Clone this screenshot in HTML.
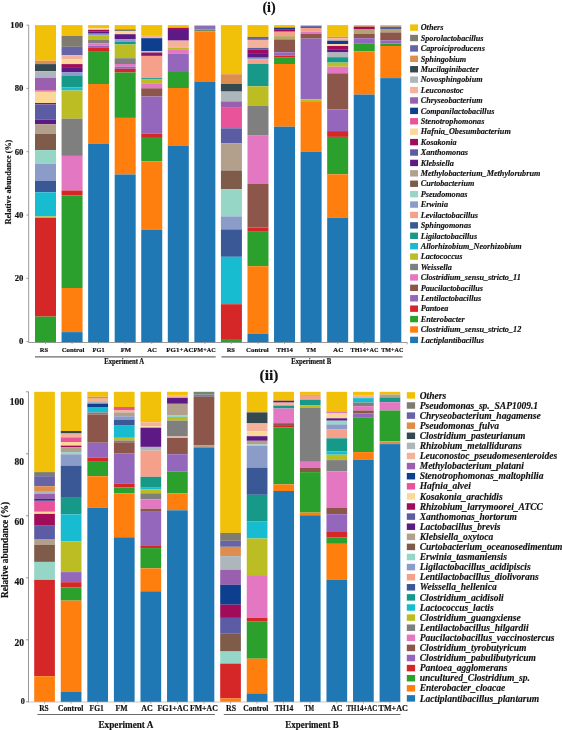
<!DOCTYPE html>
<html><head><meta charset="utf-8"><title>Relative abundance</title>
<style>
html,body{margin:0;padding:0;background:#fff;width:562px;height:730px;overflow:hidden}
svg{display:block;will-change:transform;filter:blur(0.3px)}
.b{font-family:"Liberation Serif",serif;font-weight:bold;fill:#111;stroke:#111;stroke-width:0.18px}
.lg{font-family:"Liberation Serif",serif;font-weight:bold;font-style:italic;fill:#111;stroke:#111;stroke-width:0.15px}
</style></head><body>
<svg width="562" height="730" viewBox="0 0 562 730">
<rect width="562" height="730" fill="#fff"/>
<text x="269" y="11.8" class="b" style="font-size:14px" text-anchor="middle">(i)</text>
<line x1="28.7" y1="25" x2="28.7" y2="342.5" stroke="#8f8f8f" stroke-width="0.9"/>
<line x1="28.7" y1="342.5" x2="407.4" y2="342.5" stroke="#8f8f8f" stroke-width="0.9"/><line x1="407.2" y1="342.5" x2="407.2" y2="344.3" stroke="#8f8f8f" stroke-width="0.8"/>
<line x1="26.5" y1="25.10" x2="28.7" y2="25.10" stroke="#8f8f8f" stroke-width="0.9"/>
<text x="23.4" y="27.90" class="b" style="font-size:8.7px" text-anchor="end">100</text>
<line x1="26.5" y1="88.40" x2="28.7" y2="88.40" stroke="#8f8f8f" stroke-width="0.9"/>
<text x="23.4" y="91.20" class="b" style="font-size:8.7px" text-anchor="end">80</text>
<line x1="26.5" y1="151.70" x2="28.7" y2="151.70" stroke="#8f8f8f" stroke-width="0.9"/>
<text x="23.4" y="154.50" class="b" style="font-size:8.7px" text-anchor="end">60</text>
<line x1="26.5" y1="215.00" x2="28.7" y2="215.00" stroke="#8f8f8f" stroke-width="0.9"/>
<text x="23.4" y="217.80" class="b" style="font-size:8.7px" text-anchor="end">40</text>
<line x1="26.5" y1="278.30" x2="28.7" y2="278.30" stroke="#8f8f8f" stroke-width="0.9"/>
<text x="23.4" y="281.10" class="b" style="font-size:8.7px" text-anchor="end">20</text>
<line x1="26.5" y1="341.60" x2="28.7" y2="341.60" stroke="#8f8f8f" stroke-width="0.9"/>
<text x="23.4" y="344.40" class="b" style="font-size:8.7px" text-anchor="end">0</text>
<text transform="translate(11.2,182.0) rotate(-90)" class="b" style="font-size:8.2px" text-anchor="middle">Relative abundance (%)</text>
<rect x="35.00" y="25.10" width="21.00" height="35.50" fill="#f1c10a"/>
<rect x="35.00" y="60.60" width="21.00" height="3.50" fill="#dd8e4f"/>
<rect x="35.00" y="64.10" width="21.00" height="7.10" fill="#33484f"/>
<rect x="35.00" y="71.20" width="21.00" height="6.80" fill="#adb7bb"/>
<rect x="35.00" y="78.00" width="21.00" height="12.40" fill="#9a5fae"/>
<rect x="35.00" y="90.40" width="21.00" height="1.30" fill="#e8539a"/>
<rect x="35.00" y="91.70" width="21.00" height="11.30" fill="#fbd898"/>
<rect x="35.00" y="103.00" width="21.00" height="1.40" fill="#a00c5a"/>
<rect x="35.00" y="104.40" width="21.00" height="15.20" fill="#5b5ca4"/>
<rect x="35.00" y="119.60" width="21.00" height="4.60" fill="#5e1a84"/>
<rect x="35.00" y="124.20" width="21.00" height="9.70" fill="#b3a08c"/>
<rect x="35.00" y="133.90" width="21.00" height="16.20" fill="#7f5b4a"/>
<rect x="35.00" y="150.10" width="21.00" height="13.60" fill="#96d6c6"/>
<rect x="35.00" y="163.70" width="21.00" height="17.30" fill="#8b9cc8"/>
<rect x="35.00" y="181.00" width="21.00" height="11.30" fill="#3a5796"/>
<rect x="35.00" y="192.30" width="21.00" height="24.10" fill="#18bcd0"/>
<rect x="35.00" y="216.40" width="21.00" height="1.60" fill="#bcbd22"/>
<rect x="35.00" y="218.00" width="21.00" height="98.60" fill="#d62728"/>
<rect x="35.00" y="316.60" width="21.00" height="25.60" fill="#2ca02c"/>
<rect x="61.56" y="25.10" width="21.00" height="10.80" fill="#f1c10a"/>
<rect x="61.56" y="35.90" width="21.00" height="10.90" fill="#7f7b6f"/>
<rect x="61.56" y="46.80" width="21.00" height="8.50" fill="#6663a6"/>
<rect x="61.56" y="55.30" width="21.00" height="4.10" fill="#f5b29a"/>
<rect x="61.56" y="59.40" width="21.00" height="4.70" fill="#fbd898"/>
<rect x="61.56" y="64.10" width="21.00" height="3.80" fill="#a00c5a"/>
<rect x="61.56" y="67.90" width="21.00" height="4.20" fill="#5e1a84"/>
<rect x="61.56" y="72.10" width="21.00" height="3.90" fill="#8b9cc8"/>
<rect x="61.56" y="76.00" width="21.00" height="11.40" fill="#17998a"/>
<rect x="61.56" y="87.40" width="21.00" height="3.10" fill="#18bcd0"/>
<rect x="61.56" y="90.50" width="21.00" height="28.20" fill="#bcbd22"/>
<rect x="61.56" y="118.70" width="21.00" height="37.20" fill="#7f7f7f"/>
<rect x="61.56" y="155.90" width="21.00" height="34.60" fill="#e377c2"/>
<rect x="61.56" y="190.50" width="21.00" height="4.80" fill="#d62728"/>
<rect x="61.56" y="195.30" width="21.00" height="92.70" fill="#2ca02c"/>
<rect x="61.56" y="288.00" width="21.00" height="44.10" fill="#ff7f0e"/>
<rect x="61.56" y="332.10" width="21.00" height="10.10" fill="#1f77b4"/>
<rect x="88.12" y="25.10" width="21.00" height="3.20" fill="#f1c10a"/>
<rect x="88.12" y="28.30" width="21.00" height="1.50" fill="#fbd898"/>
<rect x="88.12" y="29.80" width="21.00" height="1.90" fill="#a00c5a"/>
<rect x="88.12" y="31.70" width="21.00" height="2.00" fill="#5e1a84"/>
<rect x="88.12" y="33.70" width="21.00" height="2.00" fill="#8b9cc8"/>
<rect x="88.12" y="35.70" width="21.00" height="4.30" fill="#bcbd22"/>
<rect x="88.12" y="40.00" width="21.00" height="3.50" fill="#7f7f7f"/>
<rect x="88.12" y="43.50" width="21.00" height="2.20" fill="#e377c2"/>
<rect x="88.12" y="45.70" width="21.00" height="2.20" fill="#9467bd"/>
<rect x="88.12" y="47.90" width="21.00" height="3.90" fill="#d62728"/>
<rect x="88.12" y="51.80" width="21.00" height="32.20" fill="#2ca02c"/>
<rect x="88.12" y="84.00" width="21.00" height="59.60" fill="#ff7f0e"/>
<rect x="88.12" y="143.60" width="21.00" height="198.60" fill="#1f77b4"/>
<rect x="114.68" y="25.10" width="21.00" height="4.20" fill="#f1c10a"/>
<rect x="114.68" y="29.30" width="21.00" height="1.70" fill="#7f7b6f"/>
<rect x="114.68" y="31.00" width="21.00" height="3.20" fill="#fbd898"/>
<rect x="114.68" y="34.20" width="21.00" height="4.90" fill="#5e1a84"/>
<rect x="114.68" y="39.10" width="21.00" height="2.40" fill="#8b9cc8"/>
<rect x="114.68" y="41.50" width="21.00" height="3.00" fill="#17998a"/>
<rect x="114.68" y="44.50" width="21.00" height="13.70" fill="#bcbd22"/>
<rect x="114.68" y="58.20" width="21.00" height="5.80" fill="#7f7f7f"/>
<rect x="114.68" y="64.00" width="21.00" height="2.60" fill="#e377c2"/>
<rect x="114.68" y="66.60" width="21.00" height="2.20" fill="#9467bd"/>
<rect x="114.68" y="68.80" width="21.00" height="3.70" fill="#d62728"/>
<rect x="114.68" y="72.50" width="21.00" height="45.40" fill="#2ca02c"/>
<rect x="114.68" y="117.90" width="21.00" height="56.60" fill="#ff7f0e"/>
<rect x="114.68" y="174.50" width="21.00" height="167.70" fill="#1f77b4"/>
<rect x="141.24" y="25.10" width="21.00" height="10.80" fill="#f1c10a"/>
<rect x="141.24" y="35.90" width="21.00" height="2.30" fill="#f5b29a"/>
<rect x="141.24" y="38.20" width="21.00" height="13.10" fill="#0e3f8e"/>
<rect x="141.24" y="51.30" width="21.00" height="1.20" fill="#f5b29a"/>
<rect x="141.24" y="52.50" width="21.00" height="3.40" fill="#86186a"/>
<rect x="141.24" y="55.90" width="21.00" height="22.20" fill="#f4a08a"/>
<rect x="141.24" y="78.10" width="21.00" height="1.40" fill="#17998a"/>
<rect x="141.24" y="79.50" width="21.00" height="3.80" fill="#bcbd22"/>
<rect x="141.24" y="83.30" width="21.00" height="5.00" fill="#e377c2"/>
<rect x="141.24" y="88.30" width="21.00" height="8.20" fill="#8c564b"/>
<rect x="141.24" y="96.50" width="21.00" height="37.20" fill="#9467bd"/>
<rect x="141.24" y="133.70" width="21.00" height="4.20" fill="#d62728"/>
<rect x="141.24" y="137.90" width="21.00" height="23.40" fill="#2ca02c"/>
<rect x="141.24" y="161.30" width="21.00" height="68.30" fill="#ff7f0e"/>
<rect x="141.24" y="229.60" width="21.00" height="112.60" fill="#1f77b4"/>
<rect x="167.80" y="25.10" width="21.00" height="2.70" fill="#f1c10a"/>
<rect x="167.80" y="27.80" width="21.00" height="2.20" fill="#a00c5a"/>
<rect x="167.80" y="30.00" width="21.00" height="10.60" fill="#5e1a84"/>
<rect x="167.80" y="40.60" width="21.00" height="7.20" fill="#f5b29a"/>
<rect x="167.80" y="47.80" width="21.00" height="2.10" fill="#bcbd22"/>
<rect x="167.80" y="49.90" width="21.00" height="3.60" fill="#e377c2"/>
<rect x="167.80" y="53.50" width="21.00" height="18.50" fill="#9467bd"/>
<rect x="167.80" y="72.00" width="21.00" height="16.00" fill="#2ca02c"/>
<rect x="167.80" y="88.00" width="21.00" height="57.60" fill="#ff7f0e"/>
<rect x="167.80" y="145.60" width="21.00" height="196.60" fill="#1f77b4"/>
<rect x="194.36" y="25.10" width="21.00" height="0.80" fill="#d8c060"/>
<rect x="194.36" y="25.90" width="21.00" height="3.70" fill="#8a6fb8"/>
<rect x="194.36" y="29.60" width="21.00" height="1.70" fill="#6f8a5c"/>
<rect x="194.36" y="31.30" width="21.00" height="50.20" fill="#ff7f0e"/>
<rect x="194.36" y="81.50" width="21.00" height="260.70" fill="#1f77b4"/>
<rect x="220.92" y="25.10" width="21.00" height="49.10" fill="#f1c10a"/>
<rect x="220.92" y="74.20" width="21.00" height="9.80" fill="#dd8e4f"/>
<rect x="220.92" y="84.00" width="21.00" height="7.60" fill="#33484f"/>
<rect x="220.92" y="91.60" width="21.00" height="9.80" fill="#adb7bb"/>
<rect x="220.92" y="101.40" width="21.00" height="5.70" fill="#9a5fae"/>
<rect x="220.92" y="107.10" width="21.00" height="21.20" fill="#e8539a"/>
<rect x="220.92" y="128.30" width="21.00" height="15.10" fill="#5b5ca4"/>
<rect x="220.92" y="143.40" width="21.00" height="27.10" fill="#b3a08c"/>
<rect x="220.92" y="170.50" width="21.00" height="18.80" fill="#7f5b4a"/>
<rect x="220.92" y="189.30" width="21.00" height="27.10" fill="#96d6c6"/>
<rect x="220.92" y="216.40" width="21.00" height="13.00" fill="#8b9cc8"/>
<rect x="220.92" y="229.40" width="21.00" height="27.40" fill="#3a5796"/>
<rect x="220.92" y="256.80" width="21.00" height="47.40" fill="#18bcd0"/>
<rect x="220.92" y="304.20" width="21.00" height="34.80" fill="#d62728"/>
<rect x="220.92" y="339.00" width="21.00" height="3.20" fill="#2ca02c"/>
<rect x="247.48" y="25.10" width="21.00" height="11.80" fill="#f1c10a"/>
<rect x="247.48" y="36.90" width="21.00" height="3.00" fill="#6663a6"/>
<rect x="247.48" y="39.90" width="21.00" height="8.00" fill="#f5b29a"/>
<rect x="247.48" y="47.90" width="21.00" height="1.90" fill="#5b5ca4"/>
<rect x="247.48" y="49.80" width="21.00" height="4.10" fill="#a00c5a"/>
<rect x="247.48" y="53.90" width="21.00" height="3.80" fill="#5e1a84"/>
<rect x="247.48" y="57.70" width="21.00" height="1.80" fill="#8b9cc8"/>
<rect x="247.48" y="59.50" width="21.00" height="4.50" fill="#f4a08a"/>
<rect x="247.48" y="64.00" width="21.00" height="22.30" fill="#17998a"/>
<rect x="247.48" y="86.30" width="21.00" height="19.60" fill="#bcbd22"/>
<rect x="247.48" y="105.90" width="21.00" height="29.20" fill="#7f7f7f"/>
<rect x="247.48" y="135.10" width="21.00" height="48.90" fill="#e377c2"/>
<rect x="247.48" y="184.00" width="21.00" height="43.50" fill="#8c564b"/>
<rect x="247.48" y="227.50" width="21.00" height="3.60" fill="#d62728"/>
<rect x="247.48" y="231.10" width="21.00" height="35.10" fill="#2ca02c"/>
<rect x="247.48" y="266.20" width="21.00" height="67.70" fill="#ff7f0e"/>
<rect x="247.48" y="333.90" width="21.00" height="8.30" fill="#1f77b4"/>
<rect x="274.04" y="25.10" width="21.00" height="2.50" fill="#f1c10a"/>
<rect x="274.04" y="27.60" width="21.00" height="2.20" fill="#0e3f8e"/>
<rect x="274.04" y="29.80" width="21.00" height="1.90" fill="#a00c5a"/>
<rect x="274.04" y="31.70" width="21.00" height="4.40" fill="#f4a08a"/>
<rect x="274.04" y="36.10" width="21.00" height="3.30" fill="#b8a868"/>
<rect x="274.04" y="39.40" width="21.00" height="12.90" fill="#8c564b"/>
<rect x="274.04" y="52.30" width="21.00" height="3.40" fill="#9467bd"/>
<rect x="274.04" y="55.70" width="21.00" height="2.00" fill="#d62728"/>
<rect x="274.04" y="57.70" width="21.00" height="6.30" fill="#2ca02c"/>
<rect x="274.04" y="64.00" width="21.00" height="62.70" fill="#ff7f0e"/>
<rect x="274.04" y="126.70" width="21.00" height="215.50" fill="#1f77b4"/>
<rect x="300.60" y="25.10" width="21.00" height="1.00" fill="#f1c10a"/>
<rect x="300.60" y="26.10" width="21.00" height="1.90" fill="#5b5ca4"/>
<rect x="300.60" y="28.00" width="21.00" height="3.70" fill="#f4a08a"/>
<rect x="300.60" y="31.70" width="21.00" height="2.00" fill="#e377c2"/>
<rect x="300.60" y="33.70" width="21.00" height="4.90" fill="#8c564b"/>
<rect x="300.60" y="38.60" width="21.00" height="60.70" fill="#9467bd"/>
<rect x="300.60" y="99.30" width="21.00" height="1.90" fill="#bcbd22"/>
<rect x="300.60" y="101.20" width="21.00" height="50.50" fill="#ff7f0e"/>
<rect x="300.60" y="151.70" width="21.00" height="190.50" fill="#1f77b4"/>
<rect x="327.16" y="25.10" width="21.00" height="11.70" fill="#f1c10a"/>
<rect x="327.16" y="36.80" width="21.00" height="1.40" fill="#dd8e4f"/>
<rect x="327.16" y="38.20" width="21.00" height="2.50" fill="#f5b29a"/>
<rect x="327.16" y="40.70" width="21.00" height="3.40" fill="#0e3f8e"/>
<rect x="327.16" y="44.10" width="21.00" height="1.90" fill="#fbd898"/>
<rect x="327.16" y="46.00" width="21.00" height="3.20" fill="#a00c5a"/>
<rect x="327.16" y="49.20" width="21.00" height="3.20" fill="#5e1a84"/>
<rect x="327.16" y="52.40" width="21.00" height="4.80" fill="#adb7bb"/>
<rect x="327.16" y="57.20" width="21.00" height="5.40" fill="#17998a"/>
<rect x="327.16" y="62.60" width="21.00" height="4.10" fill="#bcbd22"/>
<rect x="327.16" y="66.70" width="21.00" height="6.60" fill="#e377c2"/>
<rect x="327.16" y="73.30" width="21.00" height="36.20" fill="#8c564b"/>
<rect x="327.16" y="109.50" width="21.00" height="21.60" fill="#9467bd"/>
<rect x="327.16" y="131.10" width="21.00" height="5.80" fill="#d62728"/>
<rect x="327.16" y="136.90" width="21.00" height="37.40" fill="#2ca02c"/>
<rect x="327.16" y="174.30" width="21.00" height="43.50" fill="#ff7f0e"/>
<rect x="327.16" y="217.80" width="21.00" height="124.40" fill="#1f77b4"/>
<rect x="353.72" y="25.10" width="21.00" height="1.50" fill="#f1c10a"/>
<rect x="353.72" y="26.60" width="21.00" height="2.90" fill="#a00c5a"/>
<rect x="353.72" y="29.50" width="21.00" height="4.40" fill="#b0a474"/>
<rect x="353.72" y="33.90" width="21.00" height="4.30" fill="#8c564b"/>
<rect x="353.72" y="38.20" width="21.00" height="5.10" fill="#9467bd"/>
<rect x="353.72" y="43.30" width="21.00" height="8.10" fill="#2ca02c"/>
<rect x="353.72" y="51.40" width="21.00" height="43.20" fill="#ff7f0e"/>
<rect x="353.72" y="94.60" width="21.00" height="247.60" fill="#1f77b4"/>
<rect x="380.28" y="25.10" width="21.00" height="1.50" fill="#f1c10a"/>
<rect x="380.28" y="26.60" width="21.00" height="2.40" fill="#5b5ca4"/>
<rect x="380.28" y="29.00" width="21.00" height="3.40" fill="#b0a474"/>
<rect x="380.28" y="32.40" width="21.00" height="8.00" fill="#8c564b"/>
<rect x="380.28" y="40.40" width="21.00" height="3.20" fill="#9467bd"/>
<rect x="380.28" y="43.60" width="21.00" height="2.40" fill="#2ca02c"/>
<rect x="380.28" y="46.00" width="21.00" height="32.10" fill="#ff7f0e"/>
<rect x="380.28" y="78.10" width="21.00" height="264.10" fill="#1f77b4"/>
<line x1="45.50" y1="342.3" x2="45.50" y2="344" stroke="#9a9a9a" stroke-width="0.8"/>
<text x="44.00" y="351.9" class="b" style="font-size:6.9px" text-anchor="middle" textLength="8.3" lengthAdjust="spacingAndGlyphs">RS</text>
<line x1="72.06" y1="342.3" x2="72.06" y2="344" stroke="#9a9a9a" stroke-width="0.8"/>
<text x="73.00" y="351.9" class="b" style="font-size:6.9px" text-anchor="middle" textLength="22.6" lengthAdjust="spacingAndGlyphs">Control</text>
<line x1="98.62" y1="342.3" x2="98.62" y2="344" stroke="#9a9a9a" stroke-width="0.8"/>
<text x="98.60" y="351.9" class="b" style="font-size:6.9px" text-anchor="middle" textLength="12.1" lengthAdjust="spacingAndGlyphs">FG1</text>
<line x1="125.18" y1="342.3" x2="125.18" y2="344" stroke="#9a9a9a" stroke-width="0.8"/>
<text x="126.00" y="351.9" class="b" style="font-size:6.9px" text-anchor="middle" textLength="10.5" lengthAdjust="spacingAndGlyphs">FM</text>
<line x1="151.74" y1="342.3" x2="151.74" y2="344" stroke="#9a9a9a" stroke-width="0.8"/>
<text x="152.10" y="351.9" class="b" style="font-size:6.9px" text-anchor="middle" textLength="9.8" lengthAdjust="spacingAndGlyphs">AC</text>
<line x1="178.30" y1="342.3" x2="178.30" y2="344" stroke="#9a9a9a" stroke-width="0.8"/>
<text x="179.90" y="351.9" class="b" style="font-size:6.9px" text-anchor="middle" textLength="27.2" lengthAdjust="spacingAndGlyphs">FG1+AC</text>
<line x1="204.86" y1="342.3" x2="204.86" y2="344" stroke="#9a9a9a" stroke-width="0.8"/>
<text x="204.60" y="351.9" class="b" style="font-size:6.9px" text-anchor="middle" textLength="22.2" lengthAdjust="spacingAndGlyphs">FM+AC</text>
<line x1="231.42" y1="342.3" x2="231.42" y2="344" stroke="#9a9a9a" stroke-width="0.8"/>
<text x="230.80" y="351.9" class="b" style="font-size:6.9px" text-anchor="middle" textLength="8.3" lengthAdjust="spacingAndGlyphs">RS</text>
<line x1="257.98" y1="342.3" x2="257.98" y2="344" stroke="#9a9a9a" stroke-width="0.8"/>
<text x="257.40" y="351.9" class="b" style="font-size:6.9px" text-anchor="middle" textLength="22.6" lengthAdjust="spacingAndGlyphs">Control</text>
<line x1="284.54" y1="342.3" x2="284.54" y2="344" stroke="#9a9a9a" stroke-width="0.8"/>
<text x="284.70" y="351.9" class="b" style="font-size:6.9px" text-anchor="middle" textLength="16.5" lengthAdjust="spacingAndGlyphs">TH14</text>
<line x1="311.10" y1="342.3" x2="311.10" y2="344" stroke="#9a9a9a" stroke-width="0.8"/>
<text x="311.10" y="351.9" class="b" style="font-size:6.9px" text-anchor="middle" textLength="10.1" lengthAdjust="spacingAndGlyphs">TM</text>
<line x1="337.66" y1="342.3" x2="337.66" y2="344" stroke="#9a9a9a" stroke-width="0.8"/>
<text x="338.30" y="351.9" class="b" style="font-size:6.9px" text-anchor="middle" textLength="10.4" lengthAdjust="spacingAndGlyphs">AC</text>
<line x1="364.22" y1="342.3" x2="364.22" y2="344" stroke="#9a9a9a" stroke-width="0.8"/>
<text x="364.50" y="351.9" class="b" style="font-size:6.9px" text-anchor="middle" textLength="27.9" lengthAdjust="spacingAndGlyphs">TH14+AC</text>
<line x1="390.78" y1="342.3" x2="390.78" y2="344" stroke="#9a9a9a" stroke-width="0.8"/>
<text x="392.30" y="351.9" class="b" style="font-size:6.9px" text-anchor="middle" textLength="22.2" lengthAdjust="spacingAndGlyphs">TM+AC</text>
<line x1="35" y1="356.9" x2="215.7" y2="356.9" stroke="#6a6a6a" stroke-width="1.1"/>
<line x1="221.5" y1="356.9" x2="402.5" y2="356.9" stroke="#6a6a6a" stroke-width="1.1"/>
<text x="124.2" y="364.2" class="b" style="font-size:7.6px" text-anchor="middle" textLength="40" lengthAdjust="spacingAndGlyphs">Experiment A</text>
<text x="311.2" y="364.2" class="b" style="font-size:7.6px" text-anchor="middle" textLength="40" lengthAdjust="spacingAndGlyphs">Experiment B</text>
<rect x="410.1" y="24.40" width="7.9" height="6.4" fill="#f1c10a"/>
<text x="420.7" y="30.31" class="lg" style="font-size:8.2px">Others</text>
<rect x="410.1" y="34.81" width="7.9" height="6.4" fill="#7f7b6f"/>
<text x="420.7" y="40.72" class="lg" style="font-size:8.2px">Sporolactobacillus</text>
<rect x="410.1" y="45.22" width="7.9" height="6.4" fill="#6663a6"/>
<text x="420.7" y="51.13" class="lg" style="font-size:8.2px">Caproiciproducens</text>
<rect x="410.1" y="55.63" width="7.9" height="6.4" fill="#dd8e4f"/>
<text x="420.7" y="61.54" class="lg" style="font-size:8.2px">Sphingobium</text>
<rect x="410.1" y="66.04" width="7.9" height="6.4" fill="#33484f"/>
<text x="420.7" y="71.95" class="lg" style="font-size:8.2px">Mucilaginibacter</text>
<rect x="410.1" y="76.45" width="7.9" height="6.4" fill="#adb7bb"/>
<text x="420.7" y="82.36" class="lg" style="font-size:8.2px">Novosphingobium</text>
<rect x="410.1" y="86.86" width="7.9" height="6.4" fill="#f5b29a"/>
<text x="420.7" y="92.77" class="lg" style="font-size:8.2px">Leuconostoc</text>
<rect x="410.1" y="97.27" width="7.9" height="6.4" fill="#9a5fae"/>
<text x="420.7" y="103.18" class="lg" style="font-size:8.2px">Chryseobacterium</text>
<rect x="410.1" y="107.68" width="7.9" height="6.4" fill="#0e3f8e"/>
<text x="420.7" y="113.59" class="lg" style="font-size:8.2px">Companilactobacillus</text>
<rect x="410.1" y="118.09" width="7.9" height="6.4" fill="#e8539a"/>
<text x="420.7" y="124.00" class="lg" style="font-size:8.2px">Stenotrophomonas</text>
<rect x="410.1" y="128.50" width="7.9" height="6.4" fill="#fbd898"/>
<text x="420.7" y="134.41" class="lg" style="font-size:8.2px">Hafnia_Obesumbacterium</text>
<rect x="410.1" y="138.91" width="7.9" height="6.4" fill="#a00c5a"/>
<text x="420.7" y="144.82" class="lg" style="font-size:8.2px">Kosakonia</text>
<rect x="410.1" y="149.32" width="7.9" height="6.4" fill="#5b5ca4"/>
<text x="420.7" y="155.23" class="lg" style="font-size:8.2px">Xanthomonas</text>
<rect x="410.1" y="159.73" width="7.9" height="6.4" fill="#5e1a84"/>
<text x="420.7" y="165.64" class="lg" style="font-size:8.2px">Klebsiella</text>
<rect x="410.1" y="170.14" width="7.9" height="6.4" fill="#b3a08c"/>
<text x="420.7" y="176.05" class="lg" style="font-size:8.2px">Methylobacterium_Methylorubrum</text>
<rect x="410.1" y="180.55" width="7.9" height="6.4" fill="#7f5b4a"/>
<text x="420.7" y="186.46" class="lg" style="font-size:8.2px">Curtobacterium</text>
<rect x="410.1" y="190.96" width="7.9" height="6.4" fill="#96d6c6"/>
<text x="420.7" y="196.87" class="lg" style="font-size:8.2px">Pseudomonas</text>
<rect x="410.1" y="201.37" width="7.9" height="6.4" fill="#8b9cc8"/>
<text x="420.7" y="207.28" class="lg" style="font-size:8.2px">Erwinia</text>
<rect x="410.1" y="211.78" width="7.9" height="6.4" fill="#f4a08a"/>
<text x="420.7" y="217.69" class="lg" style="font-size:8.2px">Levilactobacillus</text>
<rect x="410.1" y="222.19" width="7.9" height="6.4" fill="#3a5796"/>
<text x="420.7" y="228.10" class="lg" style="font-size:8.2px">Sphingomonas</text>
<rect x="410.1" y="232.60" width="7.9" height="6.4" fill="#17998a"/>
<text x="420.7" y="238.51" class="lg" style="font-size:8.2px">Ligilactobacillus</text>
<rect x="410.1" y="243.01" width="7.9" height="6.4" fill="#18bcd0"/>
<text x="420.7" y="248.92" class="lg" style="font-size:8.2px">Allorhizobium_Neorhizobium</text>
<rect x="410.1" y="253.42" width="7.9" height="6.4" fill="#bcbd22"/>
<text x="420.7" y="259.33" class="lg" style="font-size:8.2px">Lactococcus</text>
<rect x="410.1" y="263.83" width="7.9" height="6.4" fill="#7f7f7f"/>
<text x="420.7" y="269.74" class="lg" style="font-size:8.2px">Weissella</text>
<rect x="410.1" y="274.24" width="7.9" height="6.4" fill="#e377c2"/>
<text x="420.7" y="280.15" class="lg" style="font-size:8.2px">Clostridium_sensu_stricto_11</text>
<rect x="410.1" y="284.65" width="7.9" height="6.4" fill="#8c564b"/>
<text x="420.7" y="290.56" class="lg" style="font-size:8.2px">Paucilactobacillus</text>
<rect x="410.1" y="295.06" width="7.9" height="6.4" fill="#9467bd"/>
<text x="420.7" y="300.97" class="lg" style="font-size:8.2px">Lentilactobacillus</text>
<rect x="410.1" y="305.47" width="7.9" height="6.4" fill="#d62728"/>
<text x="420.7" y="311.38" class="lg" style="font-size:8.2px">Pantoea</text>
<rect x="410.1" y="315.88" width="7.9" height="6.4" fill="#2ca02c"/>
<text x="420.7" y="321.79" class="lg" style="font-size:8.2px">Enterobacter</text>
<rect x="410.1" y="326.29" width="7.9" height="6.4" fill="#ff7f0e"/>
<text x="420.7" y="332.20" class="lg" style="font-size:8.2px">Clostridium_sensu_stricto_12</text>
<rect x="410.1" y="336.70" width="7.9" height="6.4" fill="#1f77b4"/>
<text x="420.7" y="342.61" class="lg" style="font-size:8.2px">Lactiplantibacillus</text>
<text x="269" y="379.5" class="b" style="font-size:15.5px" text-anchor="middle">(ii)</text>
<line x1="28.5" y1="391.7" x2="28.5" y2="702.2" stroke="#8a8a8a" stroke-width="0.9"/>
<line x1="28.5" y1="702.0" x2="400.5" y2="702.0" stroke="#b0b0b0" stroke-width="0.7"/>
<line x1="26.0" y1="391.80" x2="28.5" y2="391.80" stroke="#8a8a8a" stroke-width="0.9"/>
<line x1="26.0" y1="453.80" x2="28.5" y2="453.80" stroke="#8a8a8a" stroke-width="0.9"/>
<line x1="26.0" y1="515.80" x2="28.5" y2="515.80" stroke="#8a8a8a" stroke-width="0.9"/>
<line x1="26.0" y1="577.80" x2="28.5" y2="577.80" stroke="#8a8a8a" stroke-width="0.9"/>
<line x1="26.0" y1="639.80" x2="28.5" y2="639.80" stroke="#8a8a8a" stroke-width="0.9"/>
<line x1="26.0" y1="701.80" x2="28.5" y2="701.80" stroke="#8a8a8a" stroke-width="0.9"/>
<text x="24" y="404.60" class="b" style="font-size:9.5px" text-anchor="end">100</text>
<text x="24" y="464.90" class="b" style="font-size:9.5px" text-anchor="end">80</text>
<text x="24" y="524.90" class="b" style="font-size:9.5px" text-anchor="end">60</text>
<text x="24" y="584.50" class="b" style="font-size:9.5px" text-anchor="end">40</text>
<text x="24" y="645.70" class="b" style="font-size:9.5px" text-anchor="end">20</text>
<text x="24.8" y="703.70" class="b" style="font-size:8.2px" text-anchor="end">0</text>
<text transform="translate(8.0,550) rotate(-90)" class="b" style="font-size:9.3px" text-anchor="middle">Relative abundance (%)</text>
<rect x="34.20" y="391.80" width="20.70" height="80.30" fill="#f1c10a"/>
<rect x="34.20" y="472.10" width="20.70" height="4.10" fill="#7f7b6f"/>
<rect x="34.20" y="476.20" width="20.70" height="10.00" fill="#6663a6"/>
<rect x="34.20" y="486.20" width="20.70" height="5.60" fill="#dd8e4f"/>
<rect x="34.20" y="491.80" width="20.70" height="1.90" fill="#adb7bb"/>
<rect x="34.20" y="493.70" width="20.70" height="5.20" fill="#9a5fae"/>
<rect x="34.20" y="498.90" width="20.70" height="1.90" fill="#0e3f8e"/>
<rect x="34.20" y="500.80" width="20.70" height="11.00" fill="#e8539a"/>
<rect x="34.20" y="511.80" width="20.70" height="2.10" fill="#fbd898"/>
<rect x="34.20" y="513.90" width="20.70" height="11.80" fill="#a00c5a"/>
<rect x="34.20" y="525.70" width="20.70" height="13.90" fill="#5b5ca4"/>
<rect x="34.20" y="539.60" width="20.70" height="5.40" fill="#b3a08c"/>
<rect x="34.20" y="545.00" width="20.70" height="16.90" fill="#7f5b4a"/>
<rect x="34.20" y="561.90" width="20.70" height="18.00" fill="#96d6c6"/>
<rect x="34.20" y="579.90" width="20.70" height="96.30" fill="#d62728"/>
<rect x="34.20" y="676.20" width="20.70" height="25.60" fill="#ff7f0e"/>
<rect x="60.77" y="391.80" width="20.70" height="39.20" fill="#f1c10a"/>
<rect x="60.77" y="431.00" width="20.70" height="2.50" fill="#33484f"/>
<rect x="60.77" y="433.50" width="20.70" height="3.90" fill="#f5b29a"/>
<rect x="60.77" y="437.40" width="20.70" height="4.60" fill="#e8539a"/>
<rect x="60.77" y="442.00" width="20.70" height="3.60" fill="#fbd898"/>
<rect x="60.77" y="445.60" width="20.70" height="1.50" fill="#a00c5a"/>
<rect x="60.77" y="447.10" width="20.70" height="5.00" fill="#b3a08c"/>
<rect x="60.77" y="452.10" width="20.70" height="2.20" fill="#96d6c6"/>
<rect x="60.77" y="454.30" width="20.70" height="11.30" fill="#8b9cc8"/>
<rect x="60.77" y="465.60" width="20.70" height="32.20" fill="#3a5796"/>
<rect x="60.77" y="497.80" width="20.70" height="16.60" fill="#17998a"/>
<rect x="60.77" y="514.40" width="20.70" height="27.10" fill="#18bcd0"/>
<rect x="60.77" y="541.50" width="20.70" height="30.60" fill="#bcbd22"/>
<rect x="60.77" y="572.10" width="20.70" height="10.10" fill="#9467bd"/>
<rect x="60.77" y="582.20" width="20.70" height="5.10" fill="#d62728"/>
<rect x="60.77" y="587.30" width="20.70" height="13.30" fill="#2ca02c"/>
<rect x="60.77" y="600.60" width="20.70" height="90.90" fill="#ff7f0e"/>
<rect x="60.77" y="691.50" width="20.70" height="10.30" fill="#1f77b4"/>
<rect x="87.34" y="391.80" width="20.70" height="4.90" fill="#f1c10a"/>
<rect x="87.34" y="396.70" width="20.70" height="2.00" fill="#dd8e4f"/>
<rect x="87.34" y="398.70" width="20.70" height="2.40" fill="#f5b29a"/>
<rect x="87.34" y="401.10" width="20.70" height="2.50" fill="#adb7bb"/>
<rect x="87.34" y="403.60" width="20.70" height="3.40" fill="#0e3f8e"/>
<rect x="87.34" y="407.00" width="20.70" height="5.40" fill="#18bcd0"/>
<rect x="87.34" y="412.40" width="20.70" height="2.00" fill="#7f7f7f"/>
<rect x="87.34" y="414.40" width="20.70" height="28.30" fill="#8c564b"/>
<rect x="87.34" y="442.70" width="20.70" height="15.00" fill="#9467bd"/>
<rect x="87.34" y="457.70" width="20.70" height="4.10" fill="#d62728"/>
<rect x="87.34" y="461.80" width="20.70" height="14.40" fill="#2ca02c"/>
<rect x="87.34" y="476.20" width="20.70" height="31.50" fill="#ff7f0e"/>
<rect x="87.34" y="507.70" width="20.70" height="194.10" fill="#1f77b4"/>
<rect x="113.91" y="391.80" width="20.70" height="15.20" fill="#f1c10a"/>
<rect x="113.91" y="407.00" width="20.70" height="3.00" fill="#e8539a"/>
<rect x="113.91" y="410.00" width="20.70" height="2.40" fill="#f5b29a"/>
<rect x="113.91" y="412.40" width="20.70" height="3.90" fill="#b3a08c"/>
<rect x="113.91" y="416.30" width="20.70" height="3.40" fill="#8b9cc8"/>
<rect x="113.91" y="419.70" width="20.70" height="5.90" fill="#3a5796"/>
<rect x="113.91" y="425.60" width="20.70" height="12.20" fill="#18bcd0"/>
<rect x="113.91" y="437.80" width="20.70" height="2.70" fill="#bcbd22"/>
<rect x="113.91" y="440.50" width="20.70" height="1.80" fill="#7f7f7f"/>
<rect x="113.91" y="442.30" width="20.70" height="11.30" fill="#8c564b"/>
<rect x="113.91" y="453.60" width="20.70" height="30.20" fill="#9467bd"/>
<rect x="113.91" y="483.80" width="20.70" height="3.70" fill="#d62728"/>
<rect x="113.91" y="487.50" width="20.70" height="5.80" fill="#2ca02c"/>
<rect x="113.91" y="493.30" width="20.70" height="44.00" fill="#ff7f0e"/>
<rect x="113.91" y="537.30" width="20.70" height="164.50" fill="#1f77b4"/>
<rect x="140.48" y="391.80" width="20.70" height="30.50" fill="#f1c10a"/>
<rect x="140.48" y="422.30" width="20.70" height="4.00" fill="#f5b29a"/>
<rect x="140.48" y="426.30" width="20.70" height="1.40" fill="#fbd898"/>
<rect x="140.48" y="427.70" width="20.70" height="19.20" fill="#5e1a84"/>
<rect x="140.48" y="446.90" width="20.70" height="3.80" fill="#adb7bb"/>
<rect x="140.48" y="450.70" width="20.70" height="26.10" fill="#f4a08a"/>
<rect x="140.48" y="476.80" width="20.70" height="10.30" fill="#17998a"/>
<rect x="140.48" y="487.10" width="20.70" height="2.10" fill="#18bcd0"/>
<rect x="140.48" y="489.20" width="20.70" height="4.10" fill="#bcbd22"/>
<rect x="140.48" y="493.30" width="20.70" height="6.10" fill="#7f7f7f"/>
<rect x="140.48" y="499.40" width="20.70" height="9.30" fill="#e377c2"/>
<rect x="140.48" y="508.70" width="20.70" height="3.10" fill="#8c564b"/>
<rect x="140.48" y="511.80" width="20.70" height="33.50" fill="#9467bd"/>
<rect x="140.48" y="545.30" width="20.70" height="2.80" fill="#d62728"/>
<rect x="140.48" y="548.10" width="20.70" height="20.20" fill="#2ca02c"/>
<rect x="140.48" y="568.30" width="20.70" height="23.00" fill="#ff7f0e"/>
<rect x="140.48" y="591.30" width="20.70" height="110.50" fill="#1f77b4"/>
<rect x="167.05" y="391.80" width="20.70" height="3.90" fill="#f1c10a"/>
<rect x="167.05" y="395.70" width="20.70" height="2.10" fill="#f5b29a"/>
<rect x="167.05" y="397.80" width="20.70" height="6.00" fill="#5e1a84"/>
<rect x="167.05" y="403.80" width="20.70" height="11.80" fill="#b3a08c"/>
<rect x="167.05" y="415.60" width="20.70" height="1.40" fill="#96d6c6"/>
<rect x="167.05" y="417.00" width="20.70" height="3.60" fill="#bcbd22"/>
<rect x="167.05" y="420.60" width="20.70" height="15.90" fill="#7f7f7f"/>
<rect x="167.05" y="436.50" width="20.70" height="1.50" fill="#f5b29a"/>
<rect x="167.05" y="438.00" width="20.70" height="16.20" fill="#8c564b"/>
<rect x="167.05" y="454.20" width="20.70" height="17.50" fill="#9467bd"/>
<rect x="167.05" y="471.70" width="20.70" height="21.60" fill="#2ca02c"/>
<rect x="167.05" y="493.30" width="20.70" height="17.00" fill="#ff7f0e"/>
<rect x="167.05" y="510.30" width="20.70" height="191.50" fill="#1f77b4"/>
<rect x="193.62" y="391.80" width="20.70" height="2.50" fill="#6f8a6a"/>
<rect x="193.62" y="394.30" width="20.70" height="2.60" fill="#7f7d8c"/>
<rect x="193.62" y="396.90" width="20.70" height="48.60" fill="#8c564b"/>
<rect x="193.62" y="445.50" width="20.70" height="1.90" fill="#b3a08c"/>
<rect x="193.62" y="447.40" width="20.70" height="254.40" fill="#1f77b4"/>
<rect x="220.19" y="391.80" width="20.70" height="141.10" fill="#f1c10a"/>
<rect x="220.19" y="532.90" width="20.70" height="7.90" fill="#7f7b6f"/>
<rect x="220.19" y="540.80" width="20.70" height="6.00" fill="#6663a6"/>
<rect x="220.19" y="546.80" width="20.70" height="9.30" fill="#dd8e4f"/>
<rect x="220.19" y="556.10" width="20.70" height="13.60" fill="#adb7bb"/>
<rect x="220.19" y="569.70" width="20.70" height="15.10" fill="#9a5fae"/>
<rect x="220.19" y="584.80" width="20.70" height="19.90" fill="#0e3f8e"/>
<rect x="220.19" y="604.70" width="20.70" height="13.20" fill="#a00c5a"/>
<rect x="220.19" y="617.90" width="20.70" height="15.30" fill="#5b5ca4"/>
<rect x="220.19" y="633.20" width="20.70" height="18.30" fill="#7f5b4a"/>
<rect x="220.19" y="651.50" width="20.70" height="12.10" fill="#96d6c6"/>
<rect x="220.19" y="663.60" width="20.70" height="34.80" fill="#d62728"/>
<rect x="220.19" y="698.40" width="20.70" height="3.40" fill="#ff7f0e"/>
<rect x="246.76" y="391.80" width="20.70" height="20.60" fill="#f1c10a"/>
<rect x="246.76" y="412.40" width="20.70" height="11.00" fill="#33484f"/>
<rect x="246.76" y="423.40" width="20.70" height="8.00" fill="#f5b29a"/>
<rect x="246.76" y="431.40" width="20.70" height="4.80" fill="#fbd898"/>
<rect x="246.76" y="436.20" width="20.70" height="4.60" fill="#5e1a84"/>
<rect x="246.76" y="440.80" width="20.70" height="3.70" fill="#b3a08c"/>
<rect x="246.76" y="444.50" width="20.70" height="1.50" fill="#96d6c6"/>
<rect x="246.76" y="446.00" width="20.70" height="21.60" fill="#8b9cc8"/>
<rect x="246.76" y="467.60" width="20.70" height="27.20" fill="#3a5796"/>
<rect x="246.76" y="494.80" width="20.70" height="26.40" fill="#17998a"/>
<rect x="246.76" y="521.20" width="20.70" height="17.30" fill="#18bcd0"/>
<rect x="246.76" y="538.50" width="20.70" height="36.60" fill="#bcbd22"/>
<rect x="246.76" y="575.10" width="20.70" height="42.80" fill="#e377c2"/>
<rect x="246.76" y="617.90" width="20.70" height="3.30" fill="#d62728"/>
<rect x="246.76" y="621.20" width="20.70" height="37.50" fill="#2ca02c"/>
<rect x="246.76" y="658.70" width="20.70" height="34.70" fill="#ff7f0e"/>
<rect x="246.76" y="693.40" width="20.70" height="8.40" fill="#1f77b4"/>
<rect x="273.33" y="391.80" width="20.70" height="8.90" fill="#f1c10a"/>
<rect x="273.33" y="400.70" width="20.70" height="1.90" fill="#5e1a84"/>
<rect x="273.33" y="402.60" width="20.70" height="2.90" fill="#f5b29a"/>
<rect x="273.33" y="405.50" width="20.70" height="3.00" fill="#17998a"/>
<rect x="273.33" y="408.50" width="20.70" height="14.70" fill="#e377c2"/>
<rect x="273.33" y="423.20" width="20.70" height="1.90" fill="#8c564b"/>
<rect x="273.33" y="425.10" width="20.70" height="2.50" fill="#d62728"/>
<rect x="273.33" y="427.60" width="20.70" height="56.80" fill="#2ca02c"/>
<rect x="273.33" y="484.40" width="20.70" height="6.60" fill="#ff7f0e"/>
<rect x="273.33" y="491.00" width="20.70" height="210.80" fill="#1f77b4"/>
<rect x="299.90" y="391.80" width="20.70" height="3.00" fill="#f1c10a"/>
<rect x="299.90" y="394.80" width="20.70" height="1.00" fill="#dd8e4f"/>
<rect x="299.90" y="395.80" width="20.70" height="3.90" fill="#f4a08a"/>
<rect x="299.90" y="399.70" width="20.70" height="5.40" fill="#17998a"/>
<rect x="299.90" y="405.10" width="20.70" height="2.90" fill="#bcbd22"/>
<rect x="299.90" y="408.00" width="20.70" height="53.80" fill="#7f7f7f"/>
<rect x="299.90" y="461.80" width="20.70" height="6.20" fill="#e377c2"/>
<rect x="299.90" y="468.00" width="20.70" height="4.10" fill="#8c564b"/>
<rect x="299.90" y="472.10" width="20.70" height="40.50" fill="#2ca02c"/>
<rect x="299.90" y="512.60" width="20.70" height="2.70" fill="#ff7f0e"/>
<rect x="299.90" y="515.30" width="20.70" height="186.50" fill="#1f77b4"/>
<rect x="326.47" y="391.80" width="20.70" height="19.50" fill="#f1c10a"/>
<rect x="326.47" y="411.30" width="20.70" height="2.20" fill="#e377c2"/>
<rect x="326.47" y="413.50" width="20.70" height="4.80" fill="#fbd898"/>
<rect x="326.47" y="418.30" width="20.70" height="2.40" fill="#5e1a84"/>
<rect x="326.47" y="420.70" width="20.70" height="3.70" fill="#96d6c6"/>
<rect x="326.47" y="424.40" width="20.70" height="5.10" fill="#8b9cc8"/>
<rect x="326.47" y="429.50" width="20.70" height="8.80" fill="#f4a08a"/>
<rect x="326.47" y="438.30" width="20.70" height="13.10" fill="#17998a"/>
<rect x="326.47" y="451.40" width="20.70" height="3.30" fill="#18bcd0"/>
<rect x="326.47" y="454.70" width="20.70" height="5.40" fill="#bcbd22"/>
<rect x="326.47" y="460.10" width="20.70" height="11.30" fill="#7f7f7f"/>
<rect x="326.47" y="471.40" width="20.70" height="36.60" fill="#e377c2"/>
<rect x="326.47" y="508.00" width="20.70" height="6.20" fill="#8c564b"/>
<rect x="326.47" y="514.20" width="20.70" height="17.80" fill="#9467bd"/>
<rect x="326.47" y="532.00" width="20.70" height="5.60" fill="#d62728"/>
<rect x="326.47" y="537.60" width="20.70" height="6.20" fill="#2ca02c"/>
<rect x="326.47" y="543.80" width="20.70" height="36.10" fill="#ff7f0e"/>
<rect x="326.47" y="579.90" width="20.70" height="121.90" fill="#1f77b4"/>
<rect x="353.04" y="391.80" width="20.70" height="3.40" fill="#f1c10a"/>
<rect x="353.04" y="395.20" width="20.70" height="2.90" fill="#f5b29a"/>
<rect x="353.04" y="398.10" width="20.70" height="4.40" fill="#18bcd0"/>
<rect x="353.04" y="402.50" width="20.70" height="3.70" fill="#7f7f7f"/>
<rect x="353.04" y="406.20" width="20.70" height="4.30" fill="#e377c2"/>
<rect x="353.04" y="410.50" width="20.70" height="3.00" fill="#8c564b"/>
<rect x="353.04" y="413.50" width="20.70" height="4.30" fill="#9467bd"/>
<rect x="353.04" y="417.80" width="20.70" height="34.30" fill="#2ca02c"/>
<rect x="353.04" y="452.10" width="20.70" height="7.70" fill="#ff7f0e"/>
<rect x="353.04" y="459.80" width="20.70" height="242.00" fill="#1f77b4"/>
<rect x="379.61" y="391.80" width="20.70" height="2.70" fill="#f1c10a"/>
<rect x="379.61" y="394.50" width="20.70" height="2.90" fill="#b3a08c"/>
<rect x="379.61" y="397.40" width="20.70" height="4.80" fill="#17998a"/>
<rect x="379.61" y="402.20" width="20.70" height="8.30" fill="#e377c2"/>
<rect x="379.61" y="410.50" width="20.70" height="30.70" fill="#2ca02c"/>
<rect x="379.61" y="441.20" width="20.70" height="2.90" fill="#dd8e4f"/>
<rect x="379.61" y="444.10" width="20.70" height="257.70" fill="#1f77b4"/>
<line x1="44.55" y1="701.9" x2="44.55" y2="703.6" stroke="#9a9a9a" stroke-width="0.8"/>
<text x="44.00" y="711.3" class="b" style="font-size:7.4px" text-anchor="middle" textLength="9.4" lengthAdjust="spacingAndGlyphs">RS</text>
<line x1="71.12" y1="701.9" x2="71.12" y2="703.6" stroke="#9a9a9a" stroke-width="0.8"/>
<text x="70.70" y="711.3" class="b" style="font-size:7.4px" text-anchor="middle" textLength="25.3" lengthAdjust="spacingAndGlyphs">Control</text>
<line x1="97.69" y1="701.9" x2="97.69" y2="703.6" stroke="#9a9a9a" stroke-width="0.8"/>
<text x="96.70" y="711.3" class="b" style="font-size:7.4px" text-anchor="middle" textLength="14.2" lengthAdjust="spacingAndGlyphs">FG1</text>
<line x1="124.26" y1="701.9" x2="124.26" y2="703.6" stroke="#9a9a9a" stroke-width="0.8"/>
<text x="121.50" y="711.3" class="b" style="font-size:7.4px" text-anchor="middle" textLength="12.1" lengthAdjust="spacingAndGlyphs">FM</text>
<line x1="150.83" y1="701.9" x2="150.83" y2="703.6" stroke="#9a9a9a" stroke-width="0.8"/>
<text x="147.10" y="711.3" class="b" style="font-size:7.4px" text-anchor="middle" textLength="11.5" lengthAdjust="spacingAndGlyphs">AC</text>
<line x1="177.40" y1="701.9" x2="177.40" y2="703.6" stroke="#9a9a9a" stroke-width="0.8"/>
<text x="173.00" y="711.3" class="b" style="font-size:7.4px" text-anchor="middle" textLength="31" lengthAdjust="spacingAndGlyphs">FG1+AC</text>
<line x1="203.97" y1="701.9" x2="203.97" y2="703.6" stroke="#9a9a9a" stroke-width="0.8"/>
<text x="203.90" y="711.3" class="b" style="font-size:7.4px" text-anchor="middle" textLength="28" lengthAdjust="spacingAndGlyphs">FM+AC</text>
<line x1="230.54" y1="701.9" x2="230.54" y2="703.6" stroke="#9a9a9a" stroke-width="0.8"/>
<text x="231.00" y="711.3" class="b" style="font-size:7.4px" text-anchor="middle" textLength="10" lengthAdjust="spacingAndGlyphs">RS</text>
<line x1="257.11" y1="701.9" x2="257.11" y2="703.6" stroke="#9a9a9a" stroke-width="0.8"/>
<text x="255.80" y="711.3" class="b" style="font-size:7.4px" text-anchor="middle" textLength="25.3" lengthAdjust="spacingAndGlyphs">Control</text>
<line x1="283.68" y1="701.9" x2="283.68" y2="703.6" stroke="#9a9a9a" stroke-width="0.8"/>
<text x="284.00" y="711.3" class="b" style="font-size:7.4px" text-anchor="middle" textLength="18.7" lengthAdjust="spacingAndGlyphs">TH14</text>
<line x1="310.25" y1="701.9" x2="310.25" y2="703.6" stroke="#9a9a9a" stroke-width="0.8"/>
<text x="309.30" y="711.3" class="b" style="font-size:7.4px" text-anchor="middle" textLength="9.5" lengthAdjust="spacingAndGlyphs">TM</text>
<line x1="336.82" y1="701.9" x2="336.82" y2="703.6" stroke="#9a9a9a" stroke-width="0.8"/>
<text x="336.70" y="711.3" class="b" style="font-size:7.4px" text-anchor="middle" textLength="11.4" lengthAdjust="spacingAndGlyphs">AC</text>
<line x1="363.39" y1="701.9" x2="363.39" y2="703.6" stroke="#9a9a9a" stroke-width="0.8"/>
<text x="361.90" y="711.3" class="b" style="font-size:7.4px" text-anchor="middle" textLength="30.8" lengthAdjust="spacingAndGlyphs">TH14+AC</text>
<line x1="389.96" y1="701.9" x2="389.96" y2="703.6" stroke="#9a9a9a" stroke-width="0.8"/>
<text x="393.20" y="711.3" class="b" style="font-size:7.4px" text-anchor="middle" textLength="29.4" lengthAdjust="spacingAndGlyphs">TM+AC</text>
<line x1="37.4" y1="714.5" x2="214.9" y2="714.5" stroke="#6a6a6a" stroke-width="1.2"/>
<line x1="223.8" y1="714.5" x2="400.5" y2="714.5" stroke="#6a6a6a" stroke-width="1.2"/>
<text x="125.9" y="727.6" class="b" style="font-size:9.4px" text-anchor="middle" textLength="54.8" lengthAdjust="spacingAndGlyphs">Experiment A</text>
<text x="312" y="727.6" class="b" style="font-size:9.4px" text-anchor="middle" textLength="53.4" lengthAdjust="spacingAndGlyphs">Experiment B</text>
<rect x="406.8" y="392.15" width="8.3" height="6.5" fill="#f1c10a"/>
<text x="419.7" y="398.54" class="lg" style="font-size:9.52px">Others</text>
<rect x="406.8" y="402.25" width="8.3" height="6.5" fill="#7f7b6f"/>
<text x="419.7" y="408.64" class="lg" style="font-size:9.52px">Pseudomonas_sp._SAP1009.1</text>
<rect x="406.8" y="412.35" width="8.3" height="6.5" fill="#6663a6"/>
<text x="419.7" y="418.74" class="lg" style="font-size:9.52px">Chryseobacterium_hagamense</text>
<rect x="406.8" y="422.45" width="8.3" height="6.5" fill="#dd8e4f"/>
<text x="419.7" y="428.84" class="lg" style="font-size:9.52px">Pseudomonas_fulva</text>
<rect x="406.8" y="432.55" width="8.3" height="6.5" fill="#33484f"/>
<text x="419.7" y="438.94" class="lg" style="font-size:9.52px">Clostridium_pasteurianum</text>
<rect x="406.8" y="442.65" width="8.3" height="6.5" fill="#adb7bb"/>
<text x="419.7" y="449.04" class="lg" style="font-size:9.52px">Rhizobium_metallidurans</text>
<rect x="406.8" y="452.75" width="8.3" height="6.5" fill="#f5b29a"/>
<text x="419.7" y="459.14" class="lg" style="font-size:9.52px">Leuconostoc_pseudomesenteroides</text>
<rect x="406.8" y="462.85" width="8.3" height="6.5" fill="#9a5fae"/>
<text x="419.7" y="469.24" class="lg" style="font-size:9.52px">Methylobacterium_platani</text>
<rect x="406.8" y="472.95" width="8.3" height="6.5" fill="#0e3f8e"/>
<text x="419.7" y="479.34" class="lg" style="font-size:9.52px">Stenotrophomonas_maltophilia</text>
<rect x="406.8" y="483.05" width="8.3" height="6.5" fill="#e8539a"/>
<text x="419.7" y="489.44" class="lg" style="font-size:9.52px">Hafnia_alvei</text>
<rect x="406.8" y="493.15" width="8.3" height="6.5" fill="#fbd898"/>
<text x="419.7" y="499.54" class="lg" style="font-size:9.52px">Kosakonia_arachidis</text>
<rect x="406.8" y="503.25" width="8.3" height="6.5" fill="#a00c5a"/>
<text x="419.7" y="509.64" class="lg" style="font-size:9.52px">Rhizobium_larrymoorei_ATCC</text>
<rect x="406.8" y="513.35" width="8.3" height="6.5" fill="#5b5ca4"/>
<text x="419.7" y="519.74" class="lg" style="font-size:9.52px">Xanthomonas_hortorum</text>
<rect x="406.8" y="523.45" width="8.3" height="6.5" fill="#5e1a84"/>
<text x="419.7" y="529.84" class="lg" style="font-size:9.52px">Lactobacillus_brevis</text>
<rect x="406.8" y="533.55" width="8.3" height="6.5" fill="#b3a08c"/>
<text x="419.7" y="539.94" class="lg" style="font-size:9.52px">Klebsiella_oxytoca</text>
<rect x="406.8" y="543.65" width="8.3" height="6.5" fill="#7f5b4a"/>
<text x="419.7" y="550.04" class="lg" style="font-size:9.52px">Curtobacterium_oceanosedimentum</text>
<rect x="406.8" y="553.75" width="8.3" height="6.5" fill="#96d6c6"/>
<text x="419.7" y="560.14" class="lg" style="font-size:9.52px">Erwinia_tasmaniensis</text>
<rect x="406.8" y="563.85" width="8.3" height="6.5" fill="#8b9cc8"/>
<text x="419.7" y="570.24" class="lg" style="font-size:9.52px">Ligilactobacillus_acidipiscis</text>
<rect x="406.8" y="573.95" width="8.3" height="6.5" fill="#f4a08a"/>
<text x="419.7" y="580.34" class="lg" style="font-size:9.52px">Lentilactobacillus_diolivorans</text>
<rect x="406.8" y="584.05" width="8.3" height="6.5" fill="#3a5796"/>
<text x="419.7" y="590.44" class="lg" style="font-size:9.52px">Weissella_hellenica</text>
<rect x="406.8" y="594.15" width="8.3" height="6.5" fill="#17998a"/>
<text x="419.7" y="600.54" class="lg" style="font-size:9.52px">Clostridium_acidisoli</text>
<rect x="406.8" y="604.25" width="8.3" height="6.5" fill="#18bcd0"/>
<text x="419.7" y="610.64" class="lg" style="font-size:9.52px">Lactococcus_lactis</text>
<rect x="406.8" y="614.35" width="8.3" height="6.5" fill="#bcbd22"/>
<text x="419.7" y="620.74" class="lg" style="font-size:9.52px">Clostridium_guangxiense</text>
<rect x="406.8" y="624.45" width="8.3" height="6.5" fill="#7f7f7f"/>
<text x="419.7" y="630.84" class="lg" style="font-size:9.52px">Lentilactobacillus_hilgardii</text>
<rect x="406.8" y="634.55" width="8.3" height="6.5" fill="#e377c2"/>
<text x="419.7" y="640.94" class="lg" style="font-size:9.52px">Paucilactobacillus_vaccinostercus</text>
<rect x="406.8" y="644.65" width="8.3" height="6.5" fill="#8c564b"/>
<text x="419.7" y="651.04" class="lg" style="font-size:9.52px">Clostridium_tyrobutyricum</text>
<rect x="406.8" y="654.75" width="8.3" height="6.5" fill="#9467bd"/>
<text x="419.7" y="661.14" class="lg" style="font-size:9.52px">Clostridium_pabulibutyricum</text>
<rect x="406.8" y="664.85" width="8.3" height="6.5" fill="#d62728"/>
<text x="419.7" y="671.24" class="lg" style="font-size:9.52px">Pantoea_agglomerans</text>
<rect x="406.8" y="674.95" width="8.3" height="6.5" fill="#2ca02c"/>
<text x="419.7" y="681.34" class="lg" style="font-size:9.52px">uncultured_Clostridium_sp.</text>
<rect x="406.8" y="685.05" width="8.3" height="6.5" fill="#ff7f0e"/>
<text x="419.7" y="691.44" class="lg" style="font-size:9.52px">Enterobacter_cloacae</text>
<rect x="406.8" y="695.15" width="8.3" height="6.5" fill="#1f77b4"/>
<text x="419.7" y="701.54" class="lg" style="font-size:9.52px">Lactiplantibacillus_plantarum</text>
</svg>
</body></html>
